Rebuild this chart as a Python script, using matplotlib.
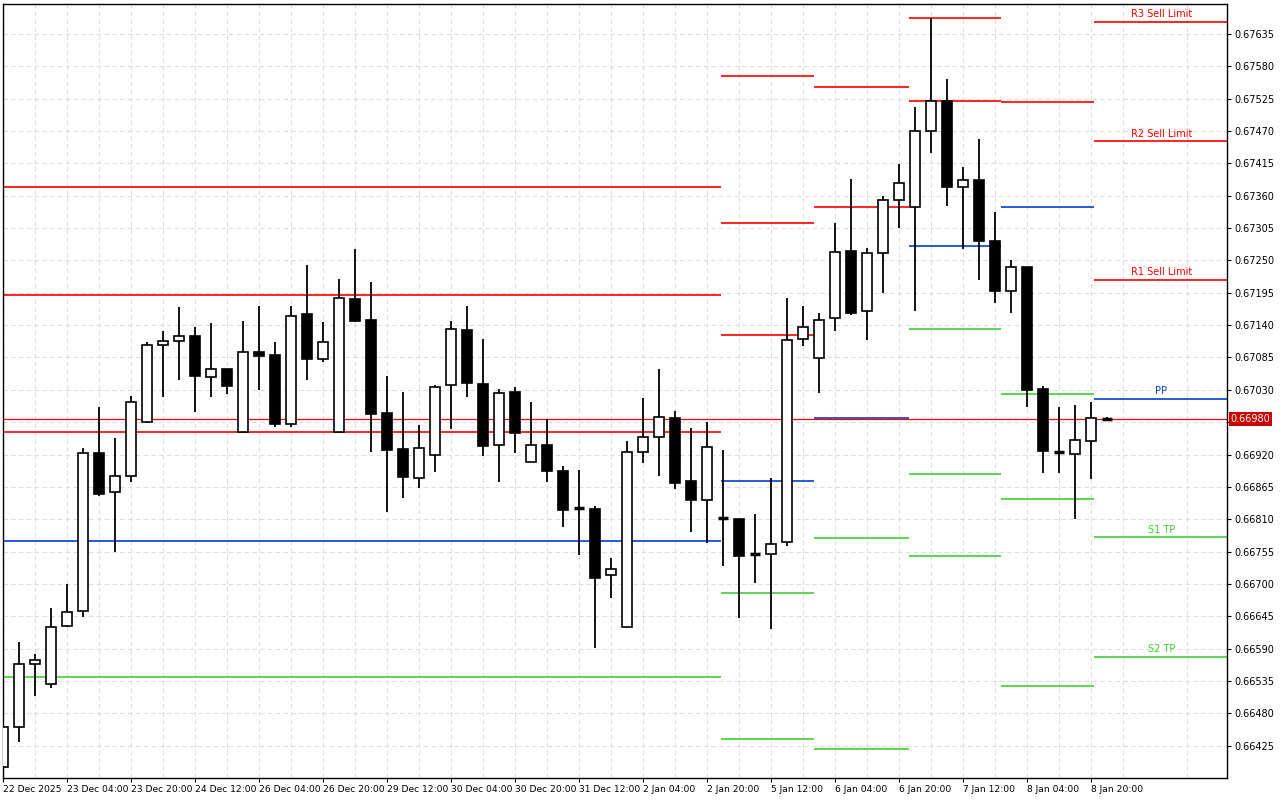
import matplotlib.pyplot as plt
from matplotlib.patches import Rectangle

# 4-hour AUDUSD-style candles (open, high, low, close)
opens = [0.66389, 0.66457, 0.66563, 0.66529, 0.66629, 0.66654, 0.66923, 0.66857, 0.66884, 0.66976,
         0.67107, 0.67113, 0.67122, 0.67052, 0.67066, 0.66959, 0.67095, 0.67090, 0.66972, 0.67159,
         0.67083, 0.66959, 0.67185, 0.67149, 0.66991, 0.66930, 0.66880, 0.66920, 0.67039, 0.67132,
         0.67040, 0.66937, 0.67027, 0.66908, 0.66937, 0.66892, 0.66828, 0.66828, 0.66716, 0.66627,
         0.66925, 0.66950, 0.66982, 0.66875, 0.66843, 0.66811, 0.66811, 0.66750, 0.66751, 0.66772,
         0.67117, 0.67084, 0.67152, 0.67266, 0.67164, 0.67263, 0.67353, 0.67341, 0.67470, 0.67521,
         0.67375, 0.67387, 0.67283, 0.67198, 0.67239, 0.67032, 0.66926, 0.66921, 0.66943, 0.66980]
highs = [0.66457, 0.66602, 0.66580, 0.66659, 0.66700, 0.66931, 0.67001, 0.66948, 0.67020, 0.67112,
         0.67130, 0.67171, 0.67137, 0.67144, 0.67066, 0.67147, 0.67173, 0.67112, 0.67173, 0.67243,
         0.67146, 0.67219, 0.67270, 0.67214, 0.67054, 0.67027, 0.66971, 0.67039, 0.67147, 0.67173,
         0.67117, 0.67032, 0.67035, 0.67010, 0.66981, 0.66901, 0.66894, 0.66833, 0.66744, 0.66943,
         0.67016, 0.67066, 0.66994, 0.66965, 0.66976, 0.66928, 0.66811, 0.66819, 0.66880, 0.67186,
         0.67173, 0.67161, 0.67314, 0.67389, 0.67271, 0.67360, 0.67414, 0.67511, 0.67662, 0.67559,
         0.67409, 0.67457, 0.67333, 0.67251, 0.67239, 0.67037, 0.67001, 0.67005, 0.67010, 0.66983]
lows = [0.66384, 0.66432, 0.66510, 0.66523, 0.66627, 0.66644, 0.66850, 0.66755, 0.66874, 0.66974,
        0.67018, 0.67047, 0.66993, 0.67018, 0.67023, 0.66959, 0.67030, 0.66967, 0.66967, 0.67047,
        0.67078, 0.66959, 0.67146, 0.66925, 0.66823, 0.66846, 0.66863, 0.66891, 0.66964, 0.67018,
        0.66918, 0.66874, 0.66923, 0.66908, 0.66874, 0.66797, 0.66750, 0.66591, 0.66676, 0.66627,
        0.66906, 0.66884, 0.66862, 0.66789, 0.66770, 0.66731, 0.66642, 0.66702, 0.66624, 0.66765,
        0.67105, 0.67025, 0.67130, 0.67158, 0.67115, 0.67195, 0.67305, 0.67164, 0.67433, 0.67343,
        0.67270, 0.67217, 0.67178, 0.67161, 0.67001, 0.66889, 0.66889, 0.66811, 0.66879, 0.66980]
closes = [0.66457, 0.66563, 0.66571, 0.66627, 0.66653, 0.66923, 0.66853, 0.66884, 0.67010, 0.67107,
          0.67113, 0.67122, 0.67054, 0.67066, 0.67037, 0.67095, 0.67088, 0.66972, 0.67156, 0.67083,
          0.67112, 0.67186, 0.67147, 0.66989, 0.66928, 0.66882, 0.66931, 0.67035, 0.67134, 0.67042,
          0.66935, 0.67025, 0.66957, 0.66937, 0.66892, 0.66826, 0.66829, 0.66710, 0.66726, 0.66925,
          0.66950, 0.66984, 0.66872, 0.66843, 0.66933, 0.66812, 0.66748, 0.66751, 0.66768, 0.67115,
          0.67137, 0.67149, 0.67265, 0.67161, 0.67263, 0.67353, 0.67382, 0.67470, 0.67521, 0.67375,
          0.67387, 0.67283, 0.67198, 0.67239, 0.67030, 0.66926, 0.66924, 0.66945, 0.66982, 0.66981]

# daily pivot segments: start, end (in bar units) and levels
seg_start = [-0.2, 44.9, 50.7, 56.6, 62.4, 68.2]
seg_end = [44.9, 50.7, 56.6, 62.4, 68.2, 76.6]
seg_r = [[0.67375, 0.67192, 0.66959], [0.67564, 0.67314, 0.67124], [0.67545, 0.67341],
         [0.67662, 0.67521], [0.67520], [0.67656, 0.67453, 0.67217]]
seg_pp = [0.66773, 0.66875, 0.66982, 0.67275, 0.67341, 0.67015]
seg_s = [[0.66542], [0.66685, 0.66437], [0.66778, 0.66420], [0.67134, 0.66887, 0.66748],
         [0.67023, 0.66845, 0.66527], [0.66780, 0.66576]]
last_labels_r = ["R3 Sell Limit", "R2 Sell Limit", "R1 Sell Limit"]
last_labels_s = ["S1 TP", "S2 TP"]
current_price = 0.66980

tick_labels = ["22 Dec 2025", "23 Dec 04:00", "23 Dec 20:00", "24 Dec 12:00", "26 Dec 04:00",
               "26 Dec 20:00", "29 Dec 12:00", "30 Dec 04:00", "30 Dec 20:00", "31 Dec 12:00",
               "2 Jan 04:00", "2 Jan 20:00", "5 Jan 12:00", "6 Jan 04:00", "6 Jan 20:00",
               "7 Jan 12:00", "8 Jan 04:00", "8 Jan 20:00"]
y_ticks = [0.66425 + 0.00055 * k for k in range(23)]

fig = plt.figure(figsize=(12.8, 8), dpi=100)
ax = fig.add_axes([3 / 1280, 22 / 800, 1224 / 1280, 774 / 800])

red, blue, green = '#ff0000', '#0040d0', '#40d030'

# pivot lines
for k in range(len(seg_start)):
    x0, x1 = seg_start[k], seg_end[k]
    for v in seg_r[k]:
        ax.hlines(v, x0, x1, color=red, lw=1.2, zorder=2)
    ax.hlines(seg_pp[k], x0, x1, color=blue, lw=1.2, zorder=2)
    for v in seg_s[k]:
        ax.hlines(v, x0, x1, color=green, lw=1.2, zorder=2)

xm = (seg_start[-1] + seg_end[-1]) / 2
for lab, v in zip(last_labels_r, seg_r[-1]):
    ax.text(xm, v + 0.00004, lab, color=red, fontsize=7, ha='center', va='bottom')
ax.text(xm, seg_pp[-1] + 0.00004, "PP", color=blue, fontsize=7, ha='center', va='bottom')
for lab, v in zip(last_labels_s, seg_s[-1]):
    ax.text(xm, v + 0.00004, lab, color=green, fontsize=7, ha='center', va='bottom')

ax.axhline(current_price, color=red, lw=0.9, zorder=2)

# candles
w = 0.62
for i in range(len(opens)):
    o, h, l, c = opens[i], highs[i], lows[i], closes[i]
    ax.vlines(i, l, h, color='black', lw=1.3, zorder=3)
    bot, top = min(o, c), max(o, c)
    if top - bot < 0.00003:
        ax.hlines((o + c) / 2, i - w / 2, i + w / 2, color='black', lw=2.5, zorder=4)
    else:
        face = 'white' if c > o else 'black'
        ax.add_patch(Rectangle((i - w / 2, bot), w, top - bot, facecolor=face,
                               edgecolor='black', lw=1.2, zorder=4))

ax.set_xticks(range(0, 4 * len(tick_labels), 4))
ax.set_xticks(range(2, 76, 4), minor=True)
ax.set_xticklabels(tick_labels, fontsize=6.6, ha='left')
ax.yaxis.tick_right()
ax.set_yticks(y_ticks)
# the tick hidden behind the price tag stays blank
ax.set_yticklabels(["" if abs(v - current_price) < 0.0002 else f"{v:.5f}" for v in y_ticks],
                   fontsize=7)
ax.set_xlim(0.0, 76.5)
ax.set_ylim(0.66370, 0.67686)
ax.tick_params(length=3, pad=2)
ax.tick_params(axis='x', which='minor', length=0)
ax.grid(True, which='both', color='#dddddd', linestyle=(0, (4, 3)), lw=0.8)
ax.set_axisbelow(True)
for s in ax.spines.values():
    s.set_linewidth(1)

ax.text(1.003, current_price, f"{current_price:.5f}", transform=ax.get_yaxis_transform(),
        fontsize=7, color='white', va='center', ha='left',
        bbox=dict(boxstyle='square,pad=0.2', fc='#cc0000', ec='none'))

fig.savefig('out.png', dpi=100)
